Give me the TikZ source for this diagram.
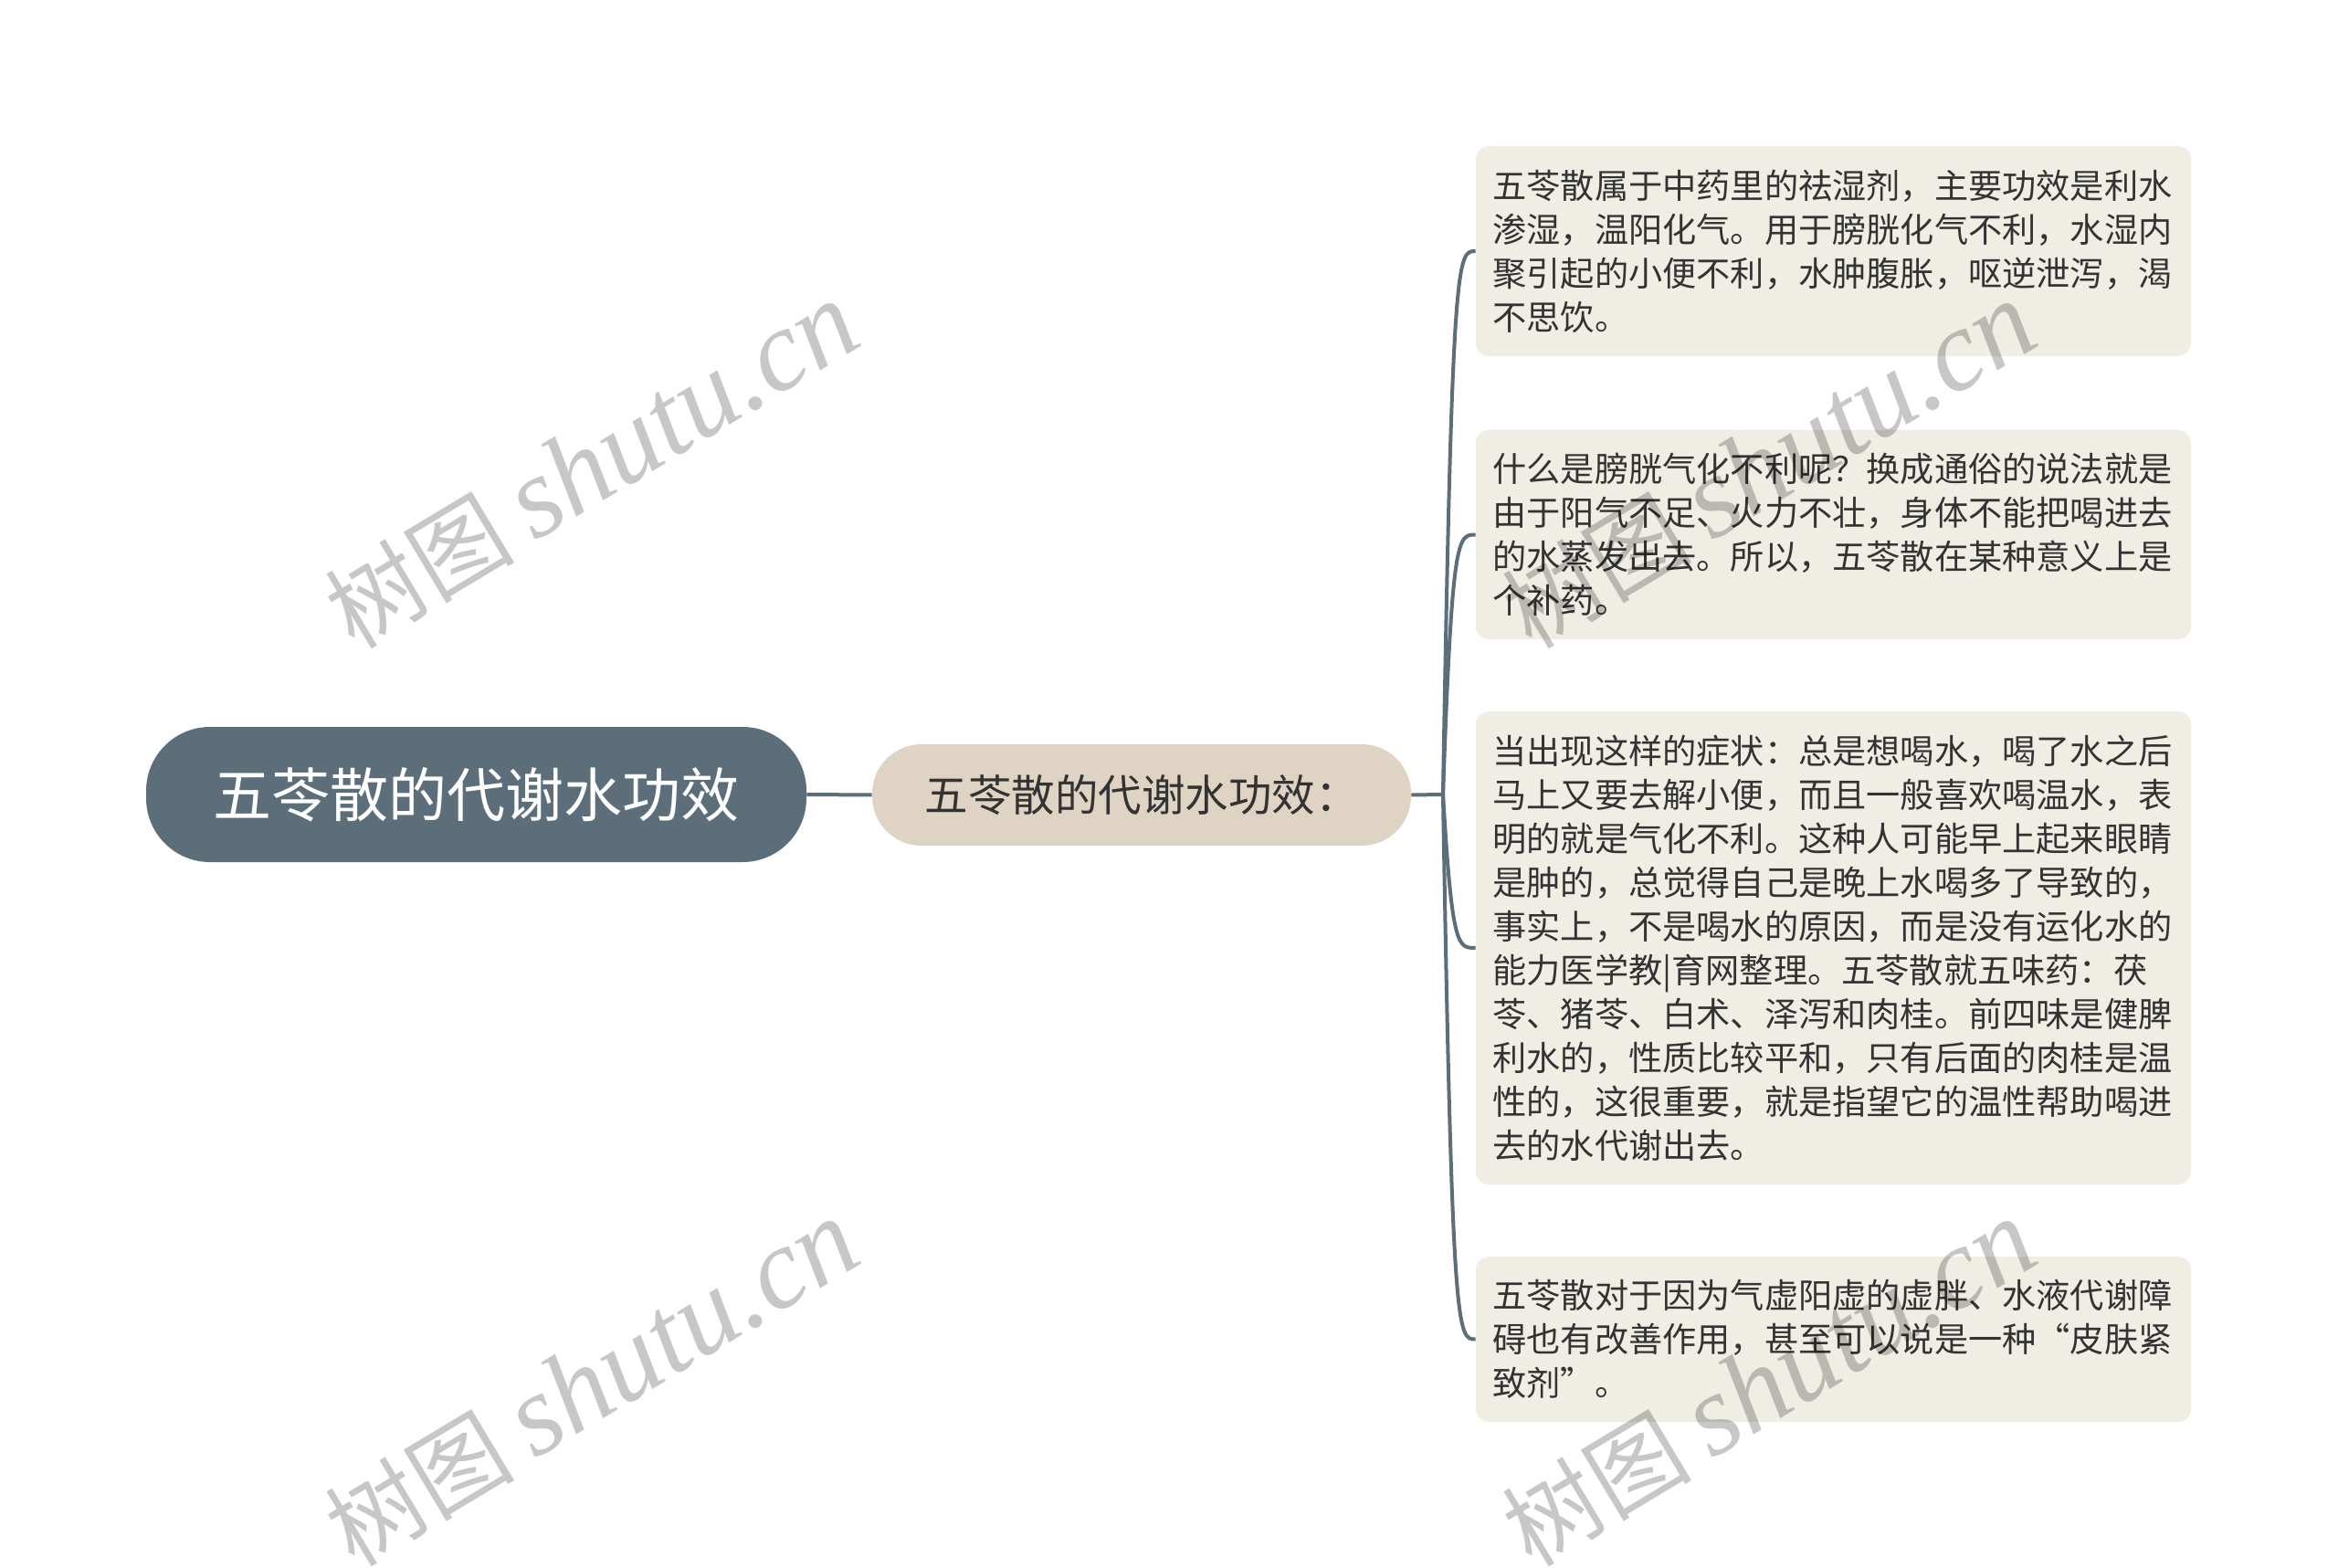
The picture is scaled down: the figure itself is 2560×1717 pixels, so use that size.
\documentclass[tikz,border=0pt]{standalone}
\usepackage{fontspec}
\newfontfamily\cjk{Noto Sans CJK SC}
\newfontfamily\wmlatin{Liberation Serif}
\usetikzlibrary{calc}
\definecolor{slate}{HTML}{5B6E7A}
\definecolor{beige}{HTML}{DFD4C3}
\definecolor{paper}{HTML}{F0EDE5}
\definecolor{ink}{HTML}{333333}
\tikzset{
  rootbox/.style={fill=slate, rounded corners=35pt, minimum width=361.5pt, minimum height=74pt, inner sep=0pt, text=white, font=\cjk\fontsize{32pt}{38pt}\selectfont},
  midbox/.style={fill=beige, rounded corners=27pt, minimum width=295pt, minimum height=55.5pt, inner sep=0pt, text=ink, font=\cjk\fontsize{23.75pt}{28pt}\selectfont},
  leafbox/.style={fill=paper, rounded corners=7pt, minimum width=391.5pt, inner sep=0pt, text=ink, align=left, text width=373pt, font=\cjk\fontsize{18.6pt}{24pt}\selectfont},
  link/.style={draw=slate, line width=2pt},
  wmark/.style={rotate=31, text=black, text opacity=0.22, inner sep=0pt}
}
\begin{document}
\begin{tikzpicture}[x=0.5pt,y=-0.5pt]
\useasboundingbox[fill=white] (0,0) rectangle (2560,1717);

\node[rootbox] (root) at (521.5,870) {五苓散的代谢水功效};
\node[midbox] (mid) at (1250,870.5) {五苓散的代谢水功效：};

\node[leafbox, minimum height=115pt] (b1) at (2007.5,275) {五苓散属于中药里的祛湿剂，主要功效是利水\\渗湿，温阳化气。用于膀胱化气不利，水湿内\\聚引起的小便不利，水肿腹胀，呕逆泄泻，渴\\不思饮。};
\node[leafbox, minimum height=114.5pt] (b2) at (2007.5,585.5) {什么是膀胱气化不利呢？换成通俗的说法就是\\由于阳气不足、火力不壮，身体不能把喝进去\\的水蒸发出去。所以，五苓散在某种意义上是\\个补药。};
\node[leafbox, minimum height=259pt] (b3) at (2007.5,1038) {当出现这样的症状：总是想喝水，喝了水之后\\马上又要去解小便，而且一般喜欢喝温水，表\\明的就是气化不利。这种人可能早上起来眼睛\\是肿的，总觉得自己是晚上水喝多了导致的，\\事实上，不是喝水的原因，而是没有运化水的\\能力医学教|育网整理。五苓散就五味药：茯\\苓、猪苓、白术、泽泻和肉桂。前四味是健脾\\利水的，性质比较平和，只有后面的肉桂是温\\性的，这很重要，就是指望它的温性帮助喝进\\去的水代谢出去。};
\node[leafbox, minimum height=90.5pt] (b4) at (2007.5,1466.5) {五苓散对于因为气虚阳虚的虚胖、水液代谢障\\碍也有改善作用，甚至可以说是一种“皮肤紧\\致剂”。};

\coordinate (trunk) at (1580,870);
\draw[link] (root.east) -- (mid.west);
\draw[link] (mid.east) -- (trunk);
\foreach \b in {b1,b2,b3,b4}{
  \draw[link] (trunk) .. controls ($(trunk |- \b.west)+(10,0)$) and ($(trunk |- \b.west)+(16,0)$) .. (\b.west);
}

\foreach \p [count=\i] in {{(648,510)},{(648,1515)},{(1937,510)},{(1937,1515)}}{
  \node[wmark] (wm\i) at \p {{\cjk\fontsize{52pt}{58pt}\selectfont 树图}\hspace{11pt}{\wmlatin\itshape\fontsize{63pt}{70pt}\selectfont shutu.cn}};
}
\end{tikzpicture}
\end{document}
